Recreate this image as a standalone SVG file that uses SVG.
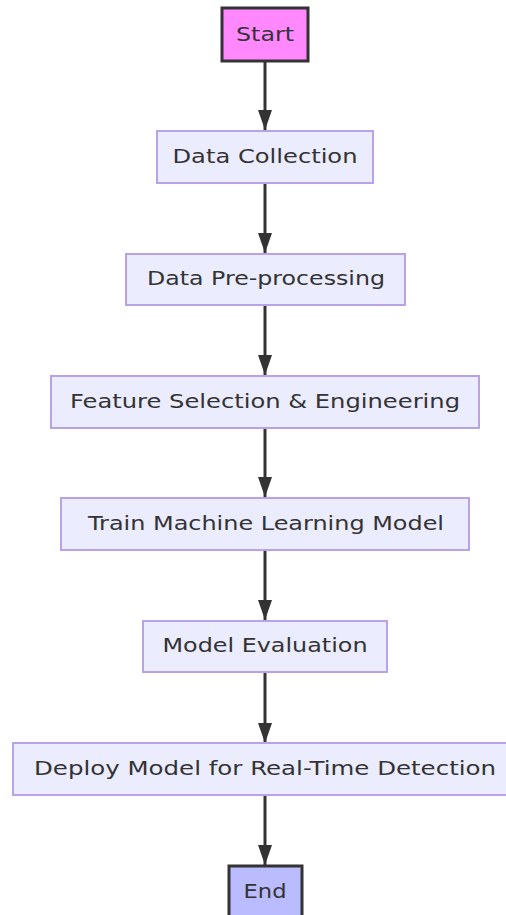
<svg xmlns="http://www.w3.org/2000/svg" width="506" height="915" viewBox="0 0 506 915">
  <style>
    .step rect { fill: #ececff; stroke: #b9a2ea; stroke-width: 2; }
    .term rect { stroke: #333333; stroke-width: 3; }
    text { font-family: "DejaVu Sans", "Liberation Sans", sans-serif; font-size: 20px; fill: #333333; text-anchor: middle; }
    .edge { stroke: #333333; stroke-width: 3; fill: none; }
  </style>
  <defs>
    <marker id="arrow" viewBox="0 0 10 10" refX="10" refY="5" markerUnits="userSpaceOnUse" markerWidth="20" markerHeight="14" orient="auto-start-reverse" preserveAspectRatio="none">
      <path d="M0,0 L10,5 L0,10 z" fill="#333333"/>
    </marker>
  </defs>
  <rect width="506" height="915" fill="#ffffff"/>

  <!-- connectors between consecutive steps -->
  <g id="edges">
    <line class="edge" x1="265" y1="61" x2="265" y2="130" marker-end="url(#arrow)"/>
    <line class="edge" x1="265" y1="183" x2="265" y2="253" marker-end="url(#arrow)"/>
    <line class="edge" x1="265" y1="305" x2="265" y2="375" marker-end="url(#arrow)"/>
    <line class="edge" x1="265" y1="428" x2="265" y2="497" marker-end="url(#arrow)"/>
    <line class="edge" x1="265" y1="551" x2="265" y2="620" marker-end="url(#arrow)"/>
    <line class="edge" x1="265" y1="672" x2="265" y2="743" marker-end="url(#arrow)"/>
    <line class="edge" x1="265" y1="795" x2="265" y2="865" marker-end="url(#arrow)"/>
  </g>

  <g id="start" class="term">
    <rect x="222" y="8" width="86" height="53" fill="#ff88ff"/>
    <text x="265" y="41" textLength="58" lengthAdjust="spacingAndGlyphs">Start</text>
  </g>

  <g id="data-collection" class="step">
    <rect x="157" y="131" width="216" height="52"/>
    <text x="265" y="163" textLength="185" lengthAdjust="spacingAndGlyphs">Data Collection</text>
  </g>

  <g id="data-preprocessing" class="step">
    <rect x="126" y="254" width="279" height="51"/>
    <text x="266" y="285" textLength="238" lengthAdjust="spacingAndGlyphs">Data Pre-processing</text>
  </g>

  <g id="feature-selection" class="step">
    <rect x="51" y="376" width="428" height="52"/>
    <text x="265" y="408" textLength="390" lengthAdjust="spacingAndGlyphs">Feature Selection &amp; Engineering</text>
  </g>

  <g id="train-model" class="step">
    <rect x="61" y="498" width="408" height="52"/>
    <text x="266" y="530" textLength="356" lengthAdjust="spacingAndGlyphs">Train Machine Learning Model</text>
  </g>

  <g id="model-evaluation" class="step">
    <rect x="143" y="621" width="244" height="51"/>
    <text x="265" y="652" textLength="205" lengthAdjust="spacingAndGlyphs">Model Evaluation</text>
  </g>

  <g id="deploy" class="step">
    <rect x="13" y="743" width="500" height="52"/>
    <text x="265" y="775" textLength="462" lengthAdjust="spacingAndGlyphs">Deploy Model for Real-Time Detection</text>
  </g>

  <g id="end" class="term">
    <rect x="229" y="866" width="73" height="60" fill="#bbbbff"/>
    <text x="265" y="898" textLength="43" lengthAdjust="spacingAndGlyphs">End</text>
  </g>
</svg>
